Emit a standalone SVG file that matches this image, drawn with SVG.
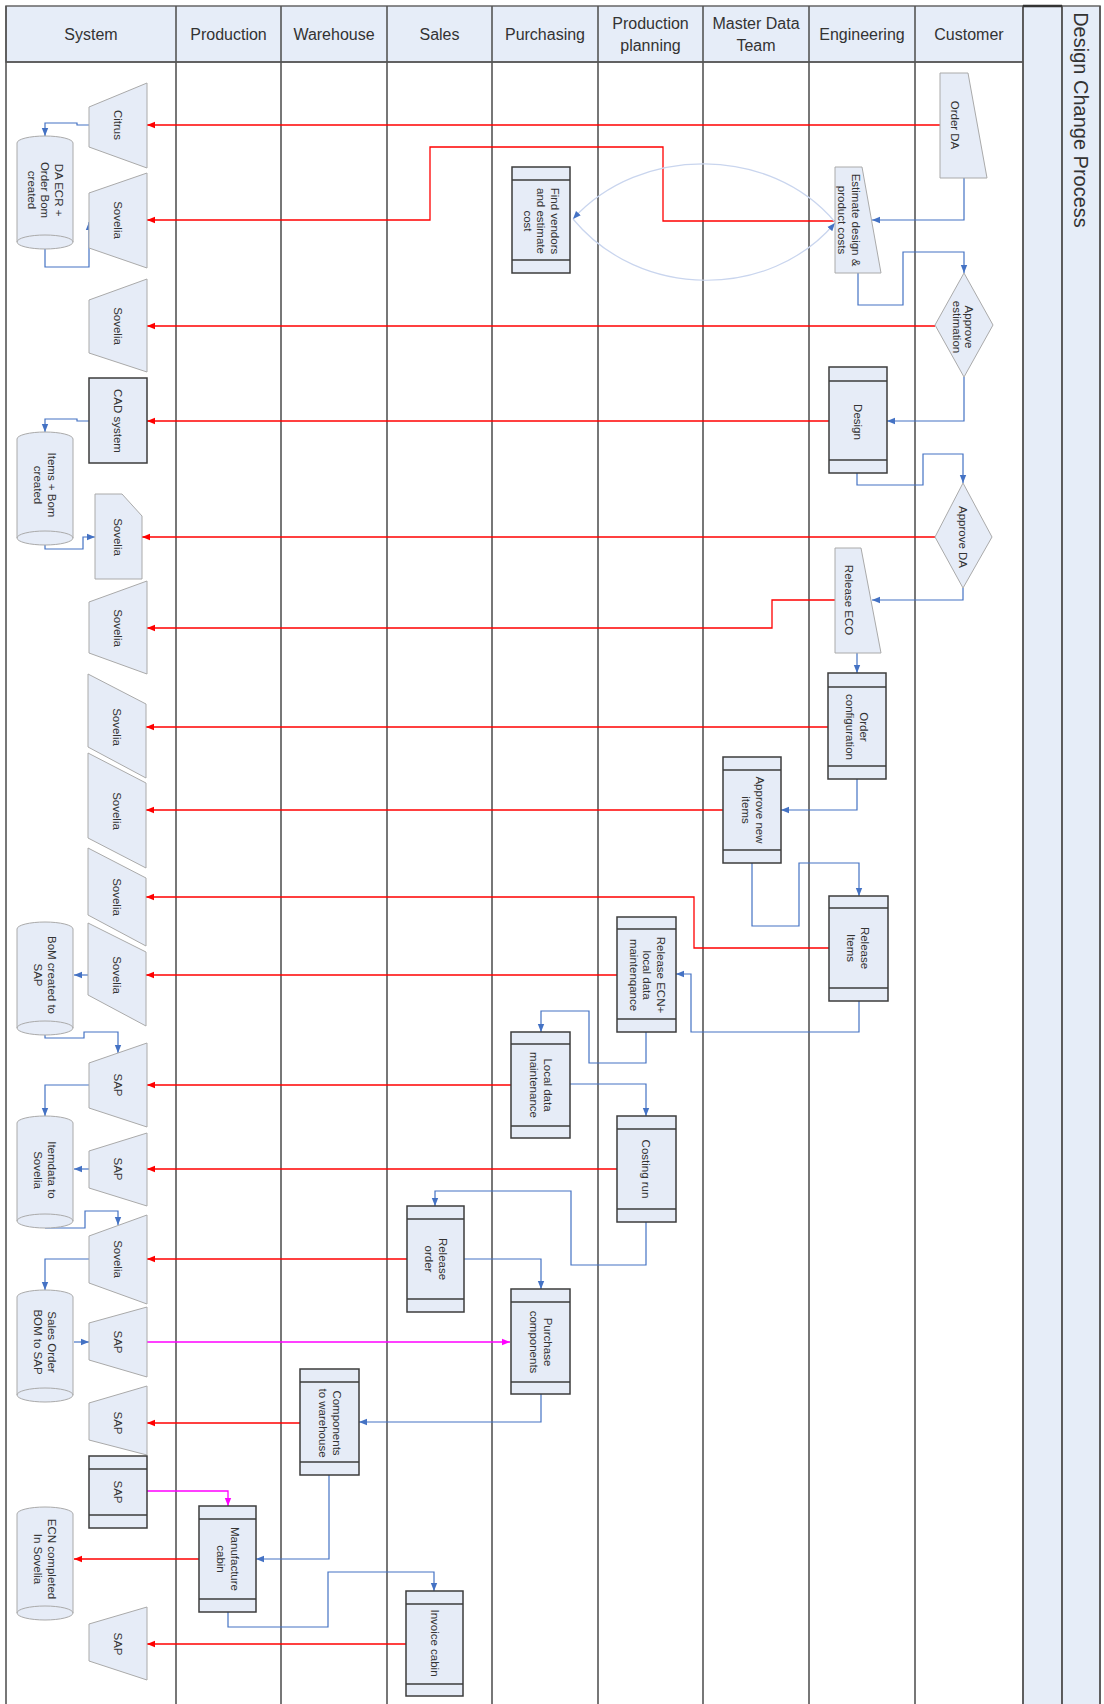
<svg xmlns="http://www.w3.org/2000/svg" width="1104" height="1704" viewBox="0 0 1104 1704">
<defs>
<marker id="ar" viewBox="0 0 10 10" refX="10" refY="5" markerWidth="8" markerHeight="8" markerUnits="userSpaceOnUse" orient="auto"><path d="M0,1 L10,5 L0,9 Z" fill="#ff0000"/></marker>
<marker id="ab" viewBox="0 0 10 10" refX="10" refY="5" markerWidth="8" markerHeight="8" markerUnits="userSpaceOnUse" orient="auto"><path d="M0,1 L10,5 L0,9 Z" fill="#4472c4"/></marker>
<marker id="am" viewBox="0 0 10 10" refX="10" refY="5" markerWidth="8" markerHeight="8" markerUnits="userSpaceOnUse" orient="auto"><path d="M0,1 L10,5 L0,9 Z" fill="#ff00ff"/></marker>
</defs>
<style>
.bg{fill:#e6edf8;stroke:#666;stroke-width:1.5}
.ln{stroke:#555;stroke-width:1.6;fill:none}
.h{font-family:"Liberation Sans",Arial,sans-serif;font-size:16px;fill:#333;text-anchor:middle}
.ttl{font-family:"Liberation Sans",Arial,sans-serif;font-size:20px;fill:#333;text-anchor:middle}
.s{fill:#e6ecf7;stroke:#aaaaaa;stroke-width:1}
.b{fill:#e6ecf7;stroke:#3c3c3c;stroke-width:1.5}
.st{stroke:#3c3c3c;stroke-width:1.3;fill:none}
.t{font-family:"Liberation Sans",Arial,sans-serif;font-size:11.5px;fill:#333;text-anchor:middle}
.r{stroke:#ff0000;stroke-width:1.3;fill:none;marker-end:url(#ar)}
.bl{stroke:#4472c4;stroke-width:1.2;fill:none;marker-end:url(#ab)}
.m{stroke:#ff00ff;stroke-width:1.3;fill:none;marker-end:url(#am)}
.cv{stroke:#c9d5ee;stroke-width:1.2;fill:none;marker-end:url(#ab)}
</style>
<rect x="0" y="0" width="1104" height="1704" fill="#ffffff"/>
<g id="lanes">
<rect class="bg" x="6" y="6" width="1017" height="56"/>
<rect class="bg" x="1023" y="6" width="39" height="1700"/>
<rect class="bg" x="1062" y="6" width="38" height="1700"/>
<line class="ln" x1="6" y1="6" x2="6" y2="1704"/>
<line class="ln" x1="176" y1="6" x2="176" y2="1704"/>
<line class="ln" x1="281" y1="6" x2="281" y2="1704"/>
<line class="ln" x1="387" y1="6" x2="387" y2="1704"/>
<line class="ln" x1="492" y1="6" x2="492" y2="1704"/>
<line class="ln" x1="598" y1="6" x2="598" y2="1704"/>
<line class="ln" x1="703" y1="6" x2="703" y2="1704"/>
<line class="ln" x1="809" y1="6" x2="809" y2="1704"/>
<line class="ln" x1="915" y1="6" x2="915" y2="1704"/>
<line class="ln" x1="1023" y1="6" x2="1023" y2="1704"/>
<line class="ln" x1="1062" y1="6" x2="1062" y2="1704"/>
<line class="ln" x1="1100" y1="6" x2="1100" y2="1704"/>
<line class="ln" x1="6" y1="62" x2="1023" y2="62"/>
<line x1="1023" y1="6" x2="1062" y2="6" stroke="#333" stroke-width="2.5"/>
<text class="h" x="91" y="39.5">System</text>
<text class="h" x="228.5" y="39.5">Production</text>
<text class="h" x="334" y="39.5">Warehouse</text>
<text class="h" x="439.5" y="39.5">Sales</text>
<text class="h" x="545" y="39.5">Purchasing</text>
<text class="h" x="650.5" y="29">Production</text>
<text class="h" x="650.5" y="50.5">planning</text>
<text class="h" x="756" y="29">Master Data</text>
<text class="h" x="756" y="50.5">Team</text>
<text class="h" x="862" y="39.5">Engineering</text>
<text class="h" x="969" y="39.5">Customer</text>
<text class="ttl" transform="translate(1081,120) rotate(90)" y="7">Design Change Process</text>
</g>
<g id="connectors">
<path class="r" d="M940,125 H147"/>
<path class="r" d="M835,221 H663 V147 H430 V220 H147"/>
<path class="r" d="M935,326 H147"/>
<path class="r" d="M829,421 H147"/>
<path class="r" d="M935,537 H142"/>
<path class="r" d="M835,600 H772 V628 H147"/>
<path class="r" d="M828,727 H146"/>
<path class="r" d="M723,810 H146"/>
<path class="r" d="M829,948 H694 V897 H146"/>
<path class="r" d="M617,975 H146"/>
<path class="r" d="M511,1085 H147"/>
<path class="r" d="M617,1169 H147"/>
<path class="r" d="M407,1259 H147"/>
<path class="r" d="M300,1423 H147"/>
<path class="r" d="M199,1559 H74"/>
<path class="r" d="M406,1644 H147"/>
<path class="m" d="M147,1342 H510"/>
<path class="m" d="M147,1491 H228 V1506"/>
<path class="bl" d="M89,125 H77 V123 H45 V136"/>
<path class="bl" d="M45,249 V267 H89 V222"/>
<path class="bl" d="M89,421 H77 V419 H45 V432"/>
<path class="bl" d="M45,545 V549 H83 V537 H95"/>
<path class="bl" d="M89,975 H74"/>
<path class="bl" d="M45,1035 V1038 H84 V1032 H118 V1053"/>
<path class="bl" d="M89,1085 H45 V1116"/>
<path class="bl" d="M89,1169 H74"/>
<path class="bl" d="M45,1228 H85 V1211 H118 V1225"/>
<path class="bl" d="M89,1259 H45 V1290"/>
<path class="bl" d="M74,1342 H89"/>
<path class="bl" d="M964,178 V220 H872"/>
<path class="bl" d="M858,273 V305 H903 V252 H964 V273"/>
<path class="bl" d="M964,377 V421 H887"/>
<path class="bl" d="M857,473 V485 H923 V454 H963 V483"/>
<path class="bl" d="M963,588 V600 H872"/>
<path class="bl" d="M857,653 V673"/>
<path class="bl" d="M857,779 V810 H781"/>
<path class="bl" d="M752,863 V926 H799 V863 H859 V896"/>
<path class="bl" d="M859,1001 V1032 H691 V974 H676"/>
<path class="bl" d="M646,1032 V1063 H589 V1011 H541 V1032"/>
<path class="bl" d="M570,1084 H646 V1116"/>
<path class="bl" d="M646,1222 V1265 H571 V1191 H435 V1206"/>
<path class="bl" d="M464,1259 H541 V1289"/>
<path class="bl" d="M541,1394 V1422 H359"/>
<path class="bl" d="M329,1475 V1559 H256"/>
<path class="bl" d="M228,1612 V1627 H328 V1572 H434 V1591"/>
<path class="cv" d="M835,222 C770,145 640,145 573,219"/>
<path class="cv" d="M573,219 C640,300 770,300 835,223"/>
</g>
<g id="n-citrus"><polygon class="s" points="89,107 147,83 147,168 89,147"/><text class="t" transform="translate(118,125) rotate(90)" y="4">Citrus</text></g>
<g id="n-daecr"><path class="s" d="M17,143 A28,7 0 0 1 73,143 V242 A28,7 0 0 1 17,242 Z M17,242 A28,7 0 0 1 73,242"/><text class="t" transform="translate(45,190) rotate(90)"><tspan x="0" y="-9.5">DA ECR +</tspan><tspan x="0" y="4">Order Bom</tspan><tspan x="0" y="17.5">created</tspan></text></g>
<g id="n-sovelia1"><polygon class="s" points="89,193 147,173 147,268 89,248"/><text class="t" transform="translate(118,220) rotate(90)" y="4">Sovelia</text></g>
<g id="n-sovelia2"><polygon class="s" points="89,300 147,279 147,372 89,353"/><text class="t" transform="translate(118,326) rotate(90)" y="4">Sovelia</text></g>
<g id="n-cad"><rect class="b" x="89" y="378" width="58" height="85"/><text class="t" transform="translate(118,421) rotate(90)" y="4">CAD system</text></g>
<g id="n-itemsbom"><path class="s" d="M17,439 A28,7 0 0 1 73,439 V538 A28,7 0 0 1 17,538 Z M17,538 A28,7 0 0 1 73,538"/><text class="t" transform="translate(45,485) rotate(90)"><tspan x="0" y="-2.75">Items + Bom</tspan><tspan x="0" y="10.75">created</tspan></text></g>
<g id="n-sovelia3"><polygon class="s" points="95,494 122,494 142,516 142,579 95,579"/><text class="t" transform="translate(118,537) rotate(90)" y="4">Sovelia</text></g>
<g id="n-sovelia4"><polygon class="s" points="89,602 147,581 147,674 89,653"/><text class="t" transform="translate(118,628) rotate(90)" y="4">Sovelia</text></g>
<g id="n-sovelia5"><polygon class="s" points="88,674 146,704 146,778 88,747"/><text class="t" transform="translate(117,727) rotate(90)" y="4">Sovelia</text></g>
<g id="n-sovelia6"><polygon class="s" points="88,753 146,783 146,868 88,838"/><text class="t" transform="translate(117,811) rotate(90)" y="4">Sovelia</text></g>
<g id="n-sovelia7"><polygon class="s" points="88,848 146,878 146,946 88,915"/><text class="t" transform="translate(117,897) rotate(90)" y="4">Sovelia</text></g>
<g id="n-sovelia8"><polygon class="s" points="88,923 146,952 146,1026 88,995"/><text class="t" transform="translate(117,975) rotate(90)" y="4">Sovelia</text></g>
<g id="n-bomsap"><path class="s" d="M17,929 A28,7 0 0 1 73,929 V1028 A28,7 0 0 1 17,1028 Z M17,1028 A28,7 0 0 1 73,1028"/><text class="t" transform="translate(45,975) rotate(90)"><tspan x="0" y="-2.75">BoM created to</tspan><tspan x="0" y="10.75">SAP</tspan></text></g>
<g id="n-sap1"><polygon class="s" points="89,1063 147,1043 147,1127 89,1108"/><text class="t" transform="translate(118,1085) rotate(90)" y="4">SAP</text></g>
<g id="n-itemdata"><path class="s" d="M17,1123 A28,7 0 0 1 73,1123 V1221 A28,7 0 0 1 17,1221 Z M17,1221 A28,7 0 0 1 73,1221"/><text class="t" transform="translate(45,1170) rotate(90)"><tspan x="0" y="-2.75">Itemdata to</tspan><tspan x="0" y="10.75">Sovelia</tspan></text></g>
<g id="n-sap2"><polygon class="s" points="89,1151 147,1133 147,1206 89,1188"/><text class="t" transform="translate(118,1169) rotate(90)" y="4">SAP</text></g>
<g id="n-sovelia9"><polygon class="s" points="89,1236 147,1215 147,1304 89,1283"/><text class="t" transform="translate(118,1259) rotate(90)" y="4">Sovelia</text></g>
<g id="n-salesorder"><path class="s" d="M17,1297 A28,7 0 0 1 73,1297 V1395 A28,7 0 0 1 17,1395 Z M17,1395 A28,7 0 0 1 73,1395"/><text class="t" transform="translate(45,1342) rotate(90)"><tspan x="0" y="-2.75">Sales Order</tspan><tspan x="0" y="10.75">BOM to SAP</tspan></text></g>
<g id="n-sap3"><polygon class="s" points="89,1323 147,1307 147,1377 89,1360"/><text class="t" transform="translate(118,1342) rotate(90)" y="4">SAP</text></g>
<g id="n-sap4"><polygon class="s" points="89,1403 147,1386 147,1455 89,1440"/><text class="t" transform="translate(118,1423) rotate(90)" y="4">SAP</text></g>
<g id="n-sap5"><rect class="b" x="89" y="1456" width="58" height="72"/><path class="st" d="M89,1469 H147 M89,1515 H147"/><text class="t" transform="translate(118,1492) rotate(90)" y="4">SAP</text></g>
<g id="n-ecn"><path class="s" d="M17,1514 A28,7 0 0 1 73,1514 V1613 A28,7 0 0 1 17,1613 Z M17,1613 A28,7 0 0 1 73,1613"/><text class="t" transform="translate(45,1559) rotate(90)"><tspan x="0" y="-2.75">ECN completed</tspan><tspan x="0" y="10.75">In Sovelia</tspan></text></g>
<g id="n-sap6"><polygon class="s" points="89,1624 147,1607 147,1680 89,1661"/><text class="t" transform="translate(118,1644) rotate(90)" y="4">SAP</text></g>
<g id="n-manufacture"><rect class="b" x="199" y="1506" width="57" height="106"/><path class="st" d="M199,1519 H256 M199,1599 H256"/><text class="t" transform="translate(228,1559) rotate(90)"><tspan x="0" y="-2.75">Manufacture</tspan><tspan x="0" y="10.75">cabin</tspan></text></g>
<g id="n-components"><rect class="b" x="300" y="1369" width="59" height="106"/><path class="st" d="M300,1382 H359 M300,1462 H359"/><text class="t" transform="translate(330,1423) rotate(90)"><tspan x="0" y="-2.75">Components</tspan><tspan x="0" y="10.75">to warehouse</tspan></text></g>
<g id="n-releaseorder"><rect class="b" x="407" y="1206" width="57" height="106"/><path class="st" d="M407,1219 H464 M407,1299 H464"/><text class="t" transform="translate(436,1259) rotate(90)"><tspan x="0" y="-2.75">Release</tspan><tspan x="0" y="10.75">order</tspan></text></g>
<g id="n-invoice"><rect class="b" x="406" y="1591" width="57" height="105"/><path class="st" d="M406,1604 H463 M406,1684 H463"/><text class="t" transform="translate(435,1643) rotate(90)" y="4">Invoice cabin</text></g>
<g id="n-findvendors"><rect class="b" x="512" y="167" width="58" height="106"/><path class="st" d="M512,180 H570 M512,260 H570"/><text class="t" transform="translate(541,221) rotate(90)"><tspan x="0" y="-9.5">Find vendors</tspan><tspan x="0" y="4">and estimate</tspan><tspan x="0" y="17.5">cost</tspan></text></g>
<g id="n-localdata"><rect class="b" x="511" y="1032" width="59" height="106"/><path class="st" d="M511,1044 H570 M511,1126 H570"/><text class="t" transform="translate(541,1085) rotate(90)"><tspan x="0" y="-2.75">Local data</tspan><tspan x="0" y="10.75">maintenance</tspan></text></g>
<g id="n-purchase"><rect class="b" x="511" y="1289" width="59" height="105"/><path class="st" d="M511,1302 H570 M511,1382 H570"/><text class="t" transform="translate(541,1342) rotate(90)"><tspan x="0" y="-2.75">Purchase</tspan><tspan x="0" y="10.75">components</tspan></text></g>
<g id="n-releaseecn"><rect class="b" x="617" y="917" width="59" height="115"/><path class="st" d="M617,929 H676 M617,1019 H676"/><text class="t" transform="translate(647,975) rotate(90)"><tspan x="0" y="-9.5">Release ECN+</tspan><tspan x="0" y="4">local data</tspan><tspan x="0" y="17.5">maintenqance</tspan></text></g>
<g id="n-costing"><rect class="b" x="617" y="1116" width="59" height="106"/><path class="st" d="M617,1129 H676 M617,1209 H676"/><text class="t" transform="translate(646,1169) rotate(90)" y="4">Costing run</text></g>
<g id="n-approvenew"><rect class="b" x="723" y="757" width="58" height="106"/><path class="st" d="M723,770 H781 M723,850 H781"/><text class="t" transform="translate(753,810) rotate(90)"><tspan x="0" y="-2.75">Approve new</tspan><tspan x="0" y="10.75">items</tspan></text></g>
<g id="n-estimate"><polygon class="s" points="835,167 862,167 881,273 835,273"/><text class="t" transform="translate(849,220) rotate(90)"><tspan x="0" y="-2.75">Estimate design &amp;</tspan><tspan x="0" y="10.75">product costs</tspan></text></g>
<g id="n-design"><rect class="b" x="829" y="367" width="58" height="106"/><path class="st" d="M829,381 H887 M829,460 H887"/><text class="t" transform="translate(858,422) rotate(90)" y="4">Design</text></g>
<g id="n-releaseeco"><polygon class="s" points="835,548 861,548 881,653 835,653"/><text class="t" transform="translate(849,600) rotate(90)" y="4">Release ECO</text></g>
<g id="n-orderconfig"><rect class="b" x="828" y="673" width="58" height="106"/><path class="st" d="M828,687 H886 M828,766 H886"/><text class="t" transform="translate(857,727) rotate(90)"><tspan x="0" y="-2.75">Order</tspan><tspan x="0" y="10.75">configuration</tspan></text></g>
<g id="n-releaseitems"><rect class="b" x="829" y="896" width="59" height="105"/><path class="st" d="M829,908 H888 M829,988 H888"/><text class="t" transform="translate(858,948) rotate(90)"><tspan x="0" y="-2.75">Release</tspan><tspan x="0" y="10.75">Items</tspan></text></g>
<g id="n-orderda"><polygon class="s" points="940,73 968,73 987,178 940,178"/><text class="t" transform="translate(955,125) rotate(90)" y="4">Order DA</text></g>
<g id="n-approveest"><polygon class="s" points="964,273 993,325 964,377 935,325"/><text class="t" transform="translate(963,327) rotate(90)"><tspan x="0" y="-2">Approve</tspan><tspan x="0" y="10">estimation</tspan></text></g>
<g id="n-approveda"><polygon class="s" points="963,483 992,537 963,588 935,537"/><text class="t" transform="translate(963,537) rotate(90)" y="4">Approve DA</text></g>
</svg>
